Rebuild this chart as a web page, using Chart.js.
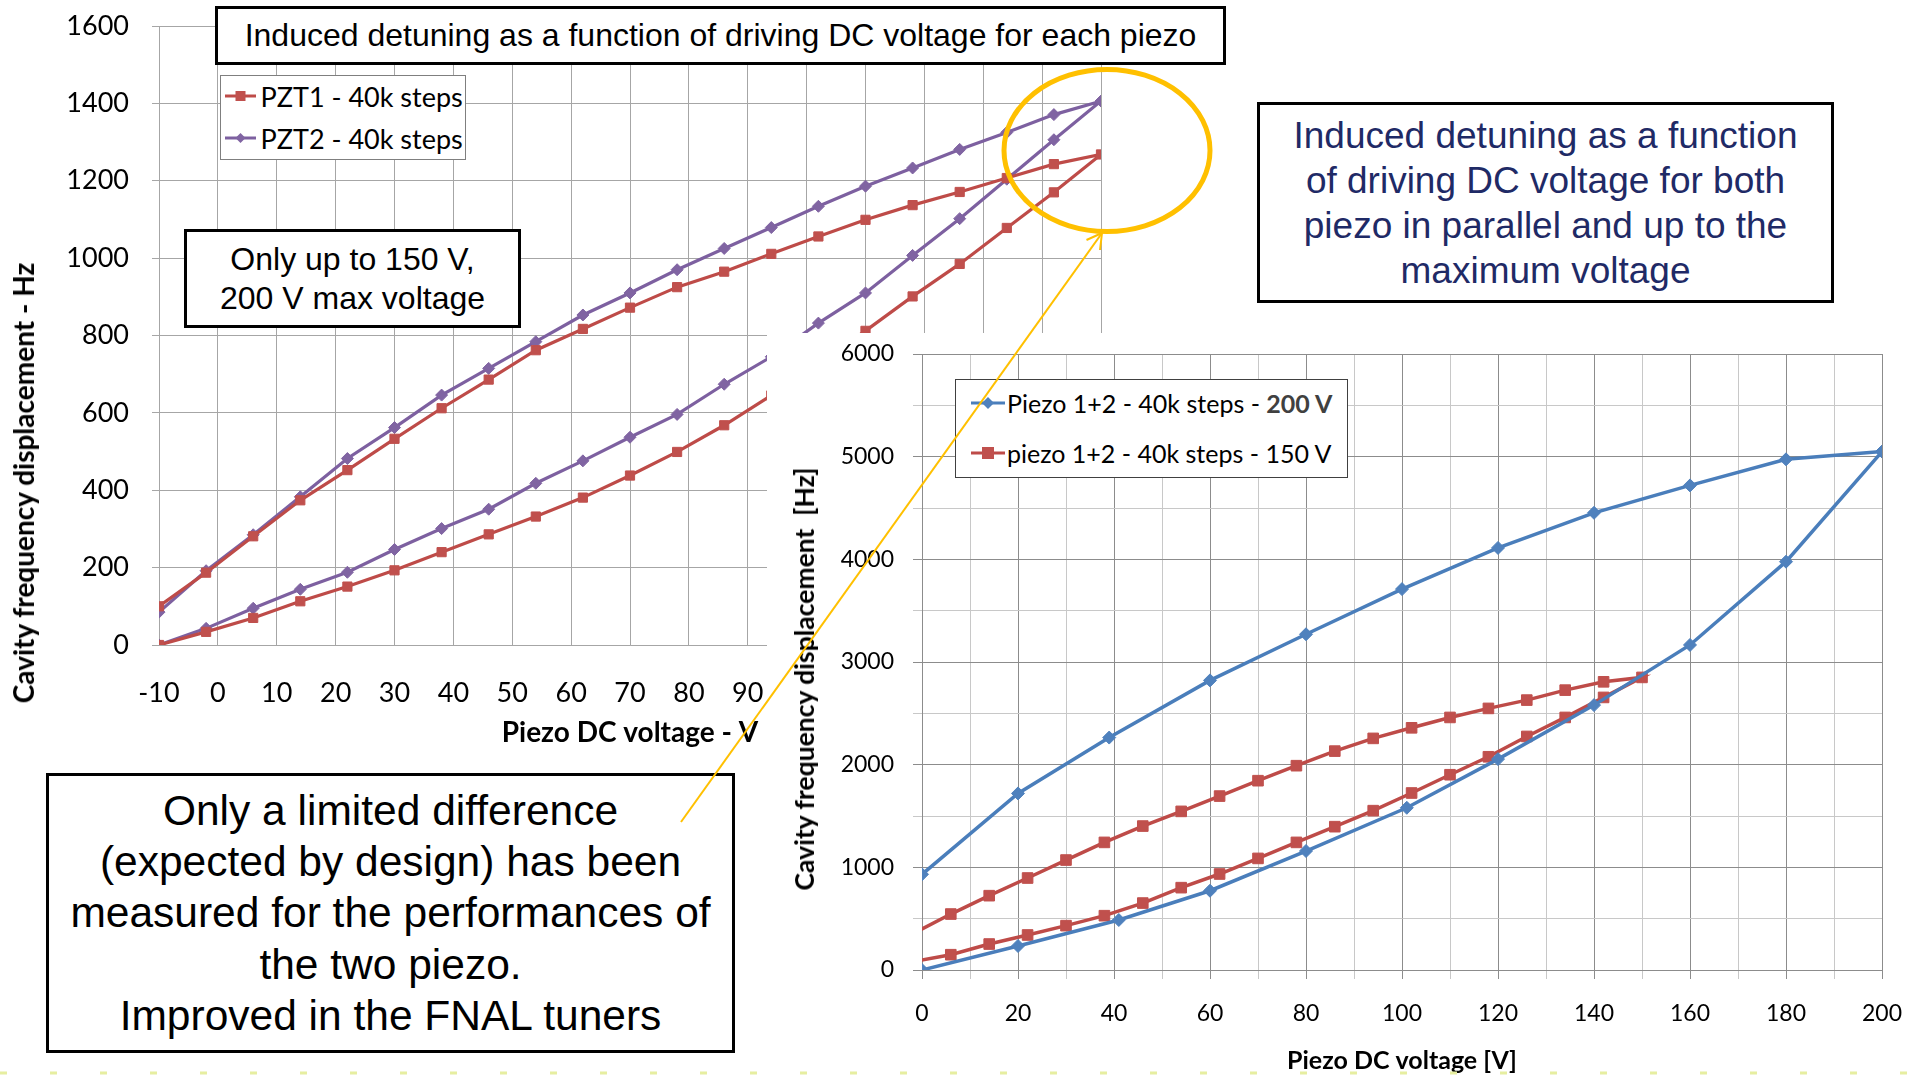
<!DOCTYPE html>
<html>
<head>
<meta charset="utf-8">
<title>Piezo induced detuning</title>
<script src="https://cdn.jsdelivr.net/npm/chart.js@4.4.0/dist/chart.umd.min.js"></script>
<style>
  html, body { margin: 0; padding: 0; background: #fff; }
  body { width: 1916px; height: 1076px; position: relative; overflow: hidden; font-family: 'Liberation Sans', Arial, sans-serif; }
  canvas { position: absolute; }
  #leftChart { left: 0; top: -20px; z-index: 1; }
  #cover { position: absolute; left: 767px; top: 333px; width: 1149px; height: 743px; background: #fff; z-index: 2; }
  #rightChart { left: 767px; top: 300px; z-index: 2; }
  .box { position: absolute; z-index: 3; background: #fff; border: 3px solid #000; box-sizing: border-box;
         text-align: center; color: #000; display: flex; align-items: center; justify-content: center; }
  .legend { position: absolute; z-index: 3; background: #fff; box-sizing: border-box; font-family: Lato, sans-serif; }
  .legend .row { position: absolute; display: flex; align-items: center; white-space: nowrap; color: #000; }
  .legend svg { display: block; }
  .ytitle { position: absolute; z-index: 3; white-space: pre; font-family: Lato, sans-serif; font-weight: bold; color: #000;
            transform: translate(-50%, -50%) rotate(-90deg); }
  #overlay { position: absolute; left: 0; top: 0; z-index: 4; pointer-events: none; }
</style>
</head>
<body>
<canvas id="leftChart" width="1161" height="780"></canvas>
<div id="cover"></div>
<canvas id="rightChart" width="1160" height="776"></canvas>

<div class="ytitle" style="left:23px; top:483px; font-size:28px;">Cavity frequency displacement - Hz</div>
<div class="ytitle" style="left:804px; top:679px; font-size:26.5px;">Cavity frequency displacement  [Hz]</div>

<div class="box" style="left:215px; top:6px; width:1011px; height:59px; font-size:32px;">Induced detuning as a function of driving DC voltage for each piezo</div>
<div class="box" style="left:184px; top:229px; width:337px; height:99px; font-size:32px; line-height:39px;">Only up to 150 V,<br>200 V max voltage</div>
<div class="box" style="left:1257px; top:102px; width:577px; height:201px; font-size:37px; line-height:45px; color:#1f2a66;">Induced detuning as a function<br>of driving DC voltage for both<br>piezo in parallel and up to the<br>maximum voltage</div>
<div class="box" style="left:46px; top:773px; width:689px; height:280px; font-size:42.5px; line-height:51.3px;">Only a limited difference<br>(expected by design) has been<br>measured for the performances of<br>the two piezo.<br>Improved in the FNAL tuners</div>

<div id="leftLegend" class="legend" style="left:220px; top:75px; width:246px; height:85px; border:1px solid #7f7f7f; font-size:27px;"></div>
<div id="rightLegend" class="legend" style="left:955px; top:379px; width:393px; height:99px; border:1.5px solid #404040; font-size:25px;"></div>

<svg id="overlay" width="1916" height="1076">
  <line x1="0" y1="1073" x2="1916" y2="1073" stroke="#e6eea0" stroke-width="3" stroke-dasharray="7 43"/>
  <ellipse cx="1107" cy="150.5" rx="103" ry="81" fill="none" stroke="#ffc000" stroke-width="5"/>
  <line x1="681" y1="822" x2="1102" y2="233" stroke="#ffc000" stroke-width="2"/>
  <polyline points="1086.5,240 1102,233 1100,250" fill="none" stroke="#ffc000" stroke-width="2"/>
</svg>

<script>
// left chart: each piezo alone, up to 150 V (voltage goes up then back down)
const leftVolts = [-10, -2, 6, 14, 22, 30, 38, 46, 54, 62, 70, 78, 86, 94, 102, 110, 118, 126, 134, 142, 150,
                   142, 134, 126, 118, 110, 102, 94, 86, 78, 70, 62, 54, 46, 38, 30, 22, 14, 6, -2, -10];
const pzt1 = [0, 34, 70, 113, 151, 193, 240, 286, 332, 381, 438, 499, 568, 645, 728, 812, 901, 985, 1078, 1170, 1268,
              1243, 1207, 1171, 1137, 1099, 1056, 1011, 965, 925, 872, 817, 762, 686, 612, 533, 452, 374, 281, 187, 100];
const pzt2 = [0, 43, 95, 144, 188, 247, 301, 351, 418, 476, 537, 596, 674, 745, 832, 910, 1007, 1102, 1204, 1306, 1406,
              1371, 1325, 1281, 1233, 1186, 1134, 1079, 1025, 970, 910, 853, 784, 715, 646, 562, 482, 383, 285, 192, 85];
const leftLabels = ['PZT1 - 40k steps', 'PZT2 - 40k steps'];

// right chart: both piezo in parallel
const volts200 = [0, 20, 41, 60, 80, 101, 120, 140, 160, 180, 200, 180, 160, 140, 120, 100, 80, 60, 39, 20, 0];
const piezo200 = [0, 234, 487, 772, 1159, 1580, 2054, 2580, 3166, 3977, 5050, 4974, 4720, 4453, 4111, 3710, 3270, 2821, 2264, 1720, 932];
const volts150 = [-2, 6, 14, 22, 30, 38, 46, 54, 62, 70, 78, 86, 94, 102, 110, 118, 126, 134, 142, 150,
                  142, 134, 126, 118, 110, 102, 94, 86, 78, 70, 62, 54, 46, 38, 30, 22, 14, 6, -2];
const piezo150 = [80, 149, 253, 341, 432, 529, 652, 802, 935, 1087, 1243, 1396, 1552, 1724, 1902, 2077, 2275, 2460, 2655, 2850,
                  2807, 2726, 2629, 2548, 2460, 2359, 2256, 2132, 1990, 1844, 1694, 1545, 1402, 1243, 1071, 896, 724, 545, 350];
const rightLabels = ['Piezo 1+2 - 40k steps - 200 V', 'piezo 1+2 - 40k steps - 150 V'];

const leftRange = { xMin: -10, xMax: 150, xStep: 10, yMin: 0, yMax: 1600, yStep: 200 };
const rightRange = { xMin: 0, xMax: 200, xStep: 10, xLabelEvery: 20, yMin: 0, yMax: 6000, yStep: 500, yLabelEvery: 1000 };

const RED = '#c0504d', RED_LINE = '#be4b48';
const PURPLE = '#8064a2', PURPLE_LINE = '#7d60a0';
const BLUE = '#4f81bd', BLUE_LINE = '#4a7ebb';

Chart.defaults.font.family = 'Lato, sans-serif';
Chart.defaults.color = '#000';

const toPoints = (xs, ys) => xs.map((x, i) => ({ x: x, y: ys[i] }));

function series(label, xs, ys, line, fill, style, radius, width) {
  return {
    label: label, data: toPoints(xs, ys), showLine: true,
    borderColor: line, backgroundColor: fill, borderWidth: width,
    pointStyle: style, pointRadius: radius, pointHoverRadius: radius,
    pointBackgroundColor: fill, pointBorderColor: fill, pointBorderWidth: 1,
    tension: 0
  };
}

// ---- left chart ----
// plot area wanted at x 159..1101, y 26..645 of the page (canvas is shifted up 20px)
const leftGrid = '#a6a6a6';
const leftChart = new Chart(document.getElementById('leftChart'), {
  type: 'scatter',
  data: {
    datasets: [
      series(leftLabels[0], leftVolts, pzt1, RED_LINE, RED, 'rect', 6.5, 3.2),
      series(leftLabels[1], leftVolts, pzt2, PURPLE_LINE, PURPLE, 'rectRot', 6, 3.2)
    ]
  },
  options: {
    responsive: false, animation: false,
    layout: { padding: { top: 46, right: 60, left: 0, bottom: 0 } },
    plugins: { legend: { display: false }, tooltip: { enabled: false } },
    scales: {
      x: {
        type: 'linear', min: leftRange.xMin, max: leftRange.xMax,
        ticks: { stepSize: leftRange.xStep, padding: 32, font: { size: 27 }, maxRotation: 0, autoSkip: false,
                 callback: v => String(v) },
        grid: { color: leftGrid, drawTicks: false },
        border: { color: leftGrid },
        title: { display: true, text: 'Piezo DC voltage - V', font: { size: 28, weight: 'bold' }, padding: { top: 0, bottom: 10 } },
        afterFit: s => { s.height = 115; }
      },
      y: {
        min: leftRange.yMin, max: leftRange.yMax,
        ticks: { stepSize: leftRange.yStep, padding: 23, font: { size: 27 }, callback: v => String(v) },
        grid: { color: leftGrid, tickLength: 7 },
        border: { color: leftGrid },
        afterFit: s => { s.width = 159; }
      }
    }
  }
});

// ---- right chart ----
// plot area wanted at x 922..1882, y 354..970 of the page
const gridMajor = '#8c8c8c', gridMinor = '#c8c8c8';
const rightChart = new Chart(document.getElementById('rightChart'), {
  type: 'scatter',
  data: {
    datasets: [
      series(rightLabels[0], volts200, piezo200, BLUE_LINE, BLUE, 'rectRot', 6.5, 3.5),
      Object.assign(series(rightLabels[1], volts150, piezo150, RED_LINE, RED, 'rect', 7.5, 3.5),
                    { clip: { left: 0, top: 20, right: 20, bottom: 20 } })
    ]
  },
  options: {
    responsive: false, animation: false,
    layout: { padding: { top: 54, right: 45, left: 0, bottom: 0 } },
    plugins: { legend: { display: false }, tooltip: { enabled: false } },
    scales: {
      x: {
        type: 'linear', min: rightRange.xMin, max: rightRange.xMax,
        ticks: { stepSize: rightRange.xStep, padding: 21, font: { size: 23 }, maxRotation: 0, autoSkip: false,
                 callback: v => (v % rightRange.xLabelEvery === 0 ? String(v) : '') },
        grid: { tickLength: 9, color: c => (c.tick && c.tick.value % rightRange.xLabelEvery === 0 ? gridMajor : gridMinor) },
        border: { color: gridMajor },
        title: { display: true, text: 'Piezo DC voltage [V]', font: { size: 25, weight: 'bold' }, padding: { top: 0, bottom: 0 } },
        afterFit: s => { s.height = 106; }
      },
      y: {
        min: rightRange.yMin, max: rightRange.yMax,
        ticks: { stepSize: rightRange.yStep, padding: 19, font: { size: 23 },
                 callback: v => (v % rightRange.yLabelEvery === 0 ? String(v) : '') },
        grid: { tickLength: 9, color: c => (c.tick && c.tick.value % rightRange.yLabelEvery === 0 ? gridMajor : gridMinor) },
        border: { color: gridMajor },
        afterFit: s => { s.width = 155; }
      }
    }
  }
});

// html legends, built from the datasets
function sampleSvg(ds, w, h, size) {
  const cx = w / 2, cy = h / 2, c = ds.pointBackgroundColor;
  const mark = ds.pointStyle === 'rect'
    ? `<rect x="${cx - size / 2}" y="${cy - size / 2}" width="${size}" height="${size}" fill="${c}"/>`
    : `<polygon points="${cx - size / 2},${cy} ${cx},${cy - size / 2} ${cx + size / 2},${cy} ${cx},${cy + size / 2}" fill="${c}"/>`;
  return `<svg width="${w}" height="${h}"><line x1="0" y1="${cy}" x2="${w}" y2="${cy}" stroke="${ds.borderColor}" stroke-width="3"/>${mark}</svg>`;
}

function buildLegend(id, chart, rowTops, svgLeft, svgWidth, gap, markSize, rowHeight) {
  const box = document.getElementById(id);
  chart.data.datasets.forEach((ds, i) => {
    const row = document.createElement('div');
    row.className = 'row';
    row.style.left = svgLeft + 'px';
    row.style.top = (rowTops[i] - rowHeight / 2) + 'px';
    row.style.height = rowHeight + 'px';
    const label = ds.label.replace('200 V', '<b style="color:#404040">200 V</b>');
    row.innerHTML = sampleSvg(ds, svgWidth, 16, markSize) + `<span style="margin-left:${gap}px">${label}</span>`;
    box.appendChild(row);
  });
}

buildLegend('leftLegend', leftChart, [20, 62], 3.5, 31, 5, 10, 40);
buildLegend('rightLegend', rightChart, [23, 73], 15, 34, 2, 12, 40);
</script>
</body>
</html>
